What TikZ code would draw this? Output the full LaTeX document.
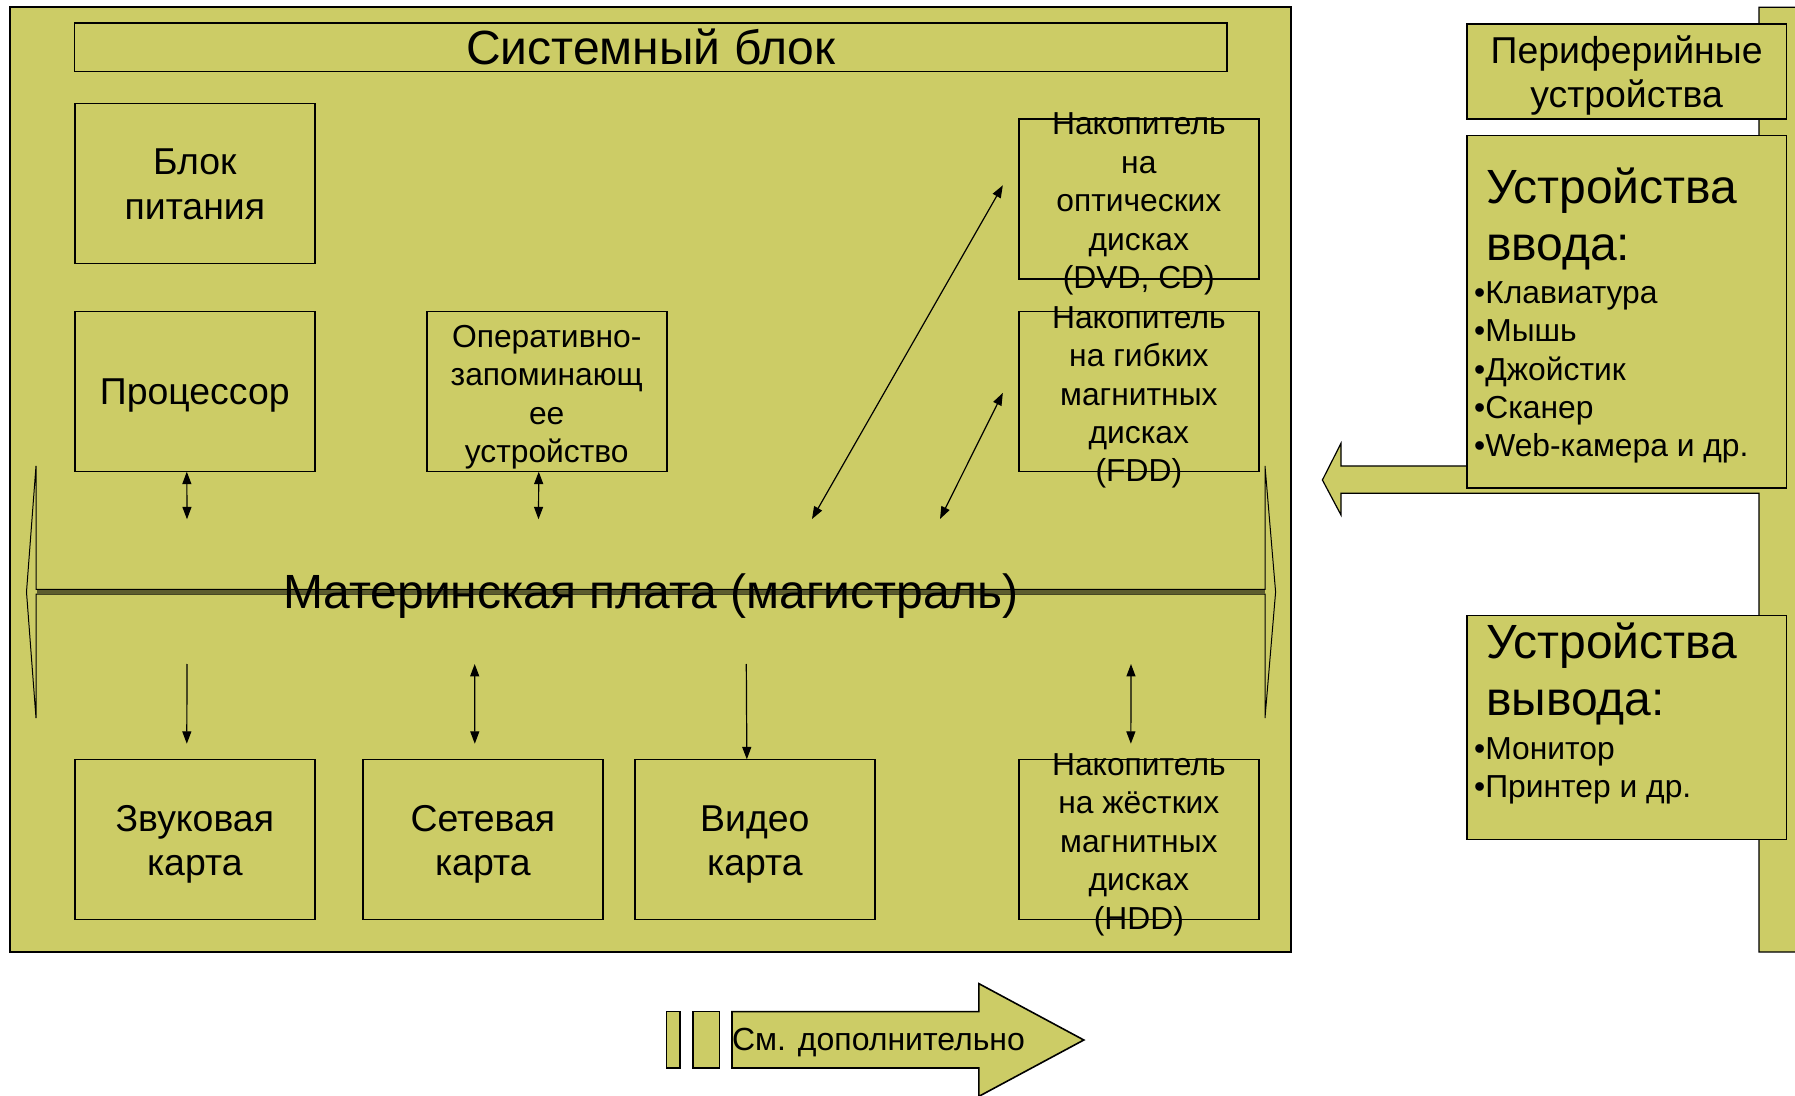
\documentclass[tikz,border=0pt]{standalone}
\usepackage{fontspec}
\setmainfont{Liberation Sans}
\usetikzlibrary{arrows.meta}
\definecolor{olivefill}{RGB}{204,204,102}
\begin{document}
\begin{tikzpicture}[x=0.5pt,y=-0.5pt,
  >={Triangle[length=6.2pt,width=4.5pt]},
  box/.style={draw, line width=0.8pt, fill=olivefill, inner sep=0pt, outer sep=0pt, minimum width=120pt, minimum height=80pt},
  txt/.style={inner sep=0pt, align=center, anchor=base},
  bigf/.style={font=\fontsize{24}{28.4}\selectfont},
  medf/.style={font=\fontsize{18.7}{22.25}\selectfont},
  smallf/.style={font=\fontsize{15.9}{19.2}\selectfont},
  conn/.style={line width=0.6pt}]
\useasboundingbox (0,0) rectangle (1795,1096);
\clip (0,0) rectangle (1795,1096);

% right bar with left arrow
\draw[line width=0.6pt, fill=olivefill] (1800,7.3) -- (1759,7.3) -- (1759,466) -- (1341,466) -- (1341,443.3) -- (1322.4,480) -- (1341,515) -- (1341,493.3) -- (1759,493.3) -- (1759,952) -- (1800,952) -- cycle;

% peripheral boxes
\node[box, minimum width=159.8pt, minimum height=47.65pt] (per) at (1626.6,71.65) {};
\node[box, minimum width=159.8pt, minimum height=176.3pt] (inp) at (1626.6,312) {};
\node[box, minimum width=159.8pt, minimum height=111.9pt] (outp) at (1626.6,727.5) {};

% system unit
\node[draw, line width=1pt, fill=olivefill, inner sep=0pt, outer sep=0pt, minimum width=640.35pt, minimum height=472.1pt] (sys) at (650.65,479.4) {};
\node[box, minimum width=576.2pt, minimum height=24.2pt] (title) at (650.8,47.5) {};
\node[box] (pwr) at (194.8,183.7) {};
\node[box] (cpu) at (194.8,391.7) {};
\node[box] (ram) at (546.75,391.7) {};
\node[box] (opt) at (1138.85,199.3) {};
\node[box] (fdd) at (1138.85,391.7) {};
\node[box] (snd) at (194.8,839.35) {};
\node[box] (net) at (482.8,839.35) {};
\node[box] (vid) at (754.85,839.35) {};
\node[box] (hdd) at (1138.85,839.35) {};

% bus
\draw[line width=0.5pt, fill=olivefill] (36,589.5) -- (1265,589.5) -- (1265,466) -- (1275.6,592) -- (1265,718) -- (1265,594.2) -- (36,594.2) -- (36,718) -- (26.5,592) -- (36,466) -- cycle;
\fill[olivefill!45!black] (36.5,590) rectangle (1264.5,593.7);

% texts (anchor=base refers to the last line of multi-line texts)
\node[txt, bigf] (titletxt) at (651,65) {Системный блок};
\node[txt, medf] (pwrtxt) at (194.8,219.5) {Блок\\питания};
\node[txt, medf] (cputxt) at (194.8,405) {Процессор};
\node[txt, smallf] (ramtxt) at (546.75,462.5) {Оперативно-\\запоминающ\\ее\\устройство};
\node[txt, smallf] (opttxt) at (1138.85,288.6) {Накопитель\\на\\оптических\\дисках\\(DVD, CD)};
\node[txt, smallf] (fddtxt) at (1138.85,481.9) {Накопитель\\на гибких\\магнитных\\дисках\\(FDD)};
\node[txt, smallf] (hddtxt) at (1138.85,929.1) {Накопитель\\на жёстких\\магнитных\\дисках\\(HDD)};
\node[txt, medf] (sndtxt) at (194.8,875.5) {Звуковая\\карта};
\node[txt, medf] (nettxt) at (482.8,875.5) {Сетевая\\карта};
\node[txt, medf] (vidtxt) at (754.85,875.5) {Видео\\карта};
\node[txt, bigf] (bustxt) at (651,608.6) {Материнская плата (магистраль)};
\node[txt, medf] (pertxt) at (1626.6,108) {Периферийные\\устройства};
\node[txt, bigf, align=left, anchor=base west] (inptxt) at (1485.8,260.1) {Устройства\\ввода:};
\node[txt, smallf, align=left, anchor=base west] (inplist) at (1473.8,456.9) {•Клавиатура\\•Мышь\\•Джойстик\\•Сканер\\•Web-камера и др.};
\node[txt, bigf, align=left, anchor=base west] (outtxt) at (1485.8,715.5) {Устройства\\вывода:};
\node[txt, smallf, align=left, anchor=base west] (outlist) at (1473.8,797.4) {•Монитор\\•Принтер и др.};

% connectors
\coordinate (cpuB) at (187,519.3);
\coordinate (ramB) at (538.5,519.3);
\coordinate (optB) at (812,519);
\coordinate (fddB) at (940,519);
\coordinate (sndB) at (187,664);
\coordinate (netB) at (474.7,664);
\coordinate (vidB) at (746.3,664);
\coordinate (hddB) at (1131,664);
\draw[conn,<->] ([xshift=-4pt]cpu.south) -- (cpuB);
\draw[conn,<->] ([xshift=-4pt]ram.south) -- (ramB);
\draw[conn,<->] (optB) -- ([xshift=-8pt,yshift=7pt]opt.west);
\draw[conn,<->] (fddB) -- ([xshift=-8pt,yshift=-0.6pt]fdd.west);
\draw[conn,->] (sndB) -- ([xshift=-4pt,yshift=7.8pt]snd.north);
\draw[conn,<->] (netB) -- ([xshift=-4pt,yshift=7.8pt]net.north);
\draw[conn,->] (vidB) -- ([xshift=-4pt]vid.north);
\draw[conn,<->] (hddB) -- ([xshift=-4pt,yshift=7.8pt]hdd.north);

% see more arrow
\draw[line width=0.8pt, fill=olivefill] (666.5,1011.6) rectangle (680,1068);
\draw[line width=0.8pt, fill=olivefill] (693,1011.6) rectangle (719.3,1068);
\draw[line width=0.8pt, fill=olivefill] (732,1011.6) -- (978.8,1011.6) -- (978.8,983.6) -- (1083.8,1040) -- (978.8,1096.4) -- (978.8,1068) -- (732,1068) -- cycle;
\node[txt, anchor=base west, font=\fontsize{16}{19}\selectfont] (moretxt) at (731.7,1050.7) {См. дополнительно};
\end{tikzpicture}
\end{document}
